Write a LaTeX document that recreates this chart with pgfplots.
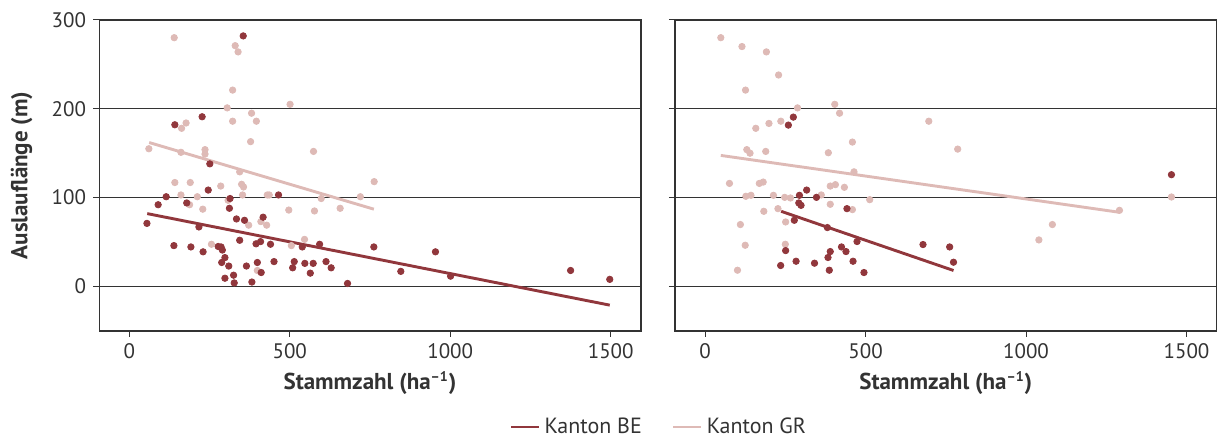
\documentclass[border=0pt]{standalone}
\usepackage{fontspec}
\setmainfont{PT Sans}
\usepackage{pgfplots}
\pgfplotsset{compat=1.18}

\definecolor{be}{HTML}{91373C}
\definecolor{gr}{HTML}{DEBAB6}
\definecolor{frame}{HTML}{333333}

\pgfplotsset{
  panel/.style={
    scale only axis, width=270.9pt, height=155.5pt,
    xmin=-94, xmax=1594, ymin=-50, ymax=300,
    xtick={0,500,1000,1500}, ytick={0,100,200,300},
    tick align=outside, tick pos=left, major tick length=3pt,
    ymajorgrids, grid style={frame, line width=0.5pt},
    axis line style={frame, line width=0.6pt},
    tick style={frame, line width=0.5pt},
    ticklabel style={font=\fontsize{10.5}{12}\selectfont, text=frame},
    /pgf/number format/assume math mode=true,
    /pgf/number format/1000 sep={},
    label style={font=\fontsize{11.5}{13}\selectfont\bfseries, text=frame},
    xlabel={Stammzahl (ha\textsuperscript{\fontsize{7}{7}\selectfont –1})},
    xlabel style={at={(axis description cs:0.5,-0.1675)}, anchor=center},
  },
  dotbe/.style={only marks, mark=*, mark size=1.6pt, color=be, forget plot},
  dotgr/.style={only marks, mark=*, mark size=1.6pt, color=gr, forget plot},
  linebe/.style={be, line width=1.45pt, no marks, forget plot},
  linegr/.style={gr, line width=1.45pt, no marks, forget plot},
}

\begin{document}
\begin{tikzpicture}
\path[use as bounding box] (0,0) rectangle (613pt,220.5pt);

% Kanton BE / GR, left panel
\begin{axis}[panel, at={(49.55pt,55.05pt)}, anchor=south west,
  ylabel={Auslauflänge (m)},
  ylabel style={at={(axis description cs:-0.143,0.5)}, anchor=center},
  legend style={at={(axis description cs:1.035,-0.309)}, anchor=center, draw=none, fill=none,
    legend columns=2, font=\fontsize{11}{13}\selectfont, text=frame,
    /tikz/every even column/.append style={column sep=13pt}},
  legend image code/.code={\draw[#1] (0pt,0pt) -- (14pt,0pt);},
  ]
\addplot[dotgr] coordinates {
(140,280) (330,271) (339,264) (322,221) (305,201) (501,205) (381,195) (396,186)
(322,186) (177,184) (163,178) (378,163) (61,155) (161,151) (236,154) (236,149)
(574,152) (344,129) (142,117) (190,117) (285,113) (350,115) (356,112) (161,103)
(212,101) (353,103) (430,103) (436,103) (308,97) (188,92) (229,87) (497,86)
(577,85) (372,69) (410,73) (428,69) (256,47.5) (546,53) (505,46) (399,18)
(598,99) (657,88) (720,101) (763,118)};
\addplot[dotbe] coordinates {
(355,282) (142,182) (227,191) (251,138) (246,108.5) (115,101) (90,92) (179,94)
(314,99) (312,88) (465,103) (55,71) (217,67) (334,76) (359,74.5) (417,78)
(344,52) (395,48) (409,50.5) (440,47.5) (139,46) (192,44.5) (230,39) (277,45)
(286,44.5) (290,41) (298,32.5) (288,27) (310,23) (365,23) (399,27) (411,15.7)
(451,28) (325,12.7) (298,9.3) (327,4) (382,5) (539,44.5) (514,28) (509,21)
(547,26) (564,15) (573,26) (593,47.5) (613,28) (629,21) (680,3.4) (762,44.5)
(846,17) (954,39) (1001,11.6) (1375,18) (1497,8)};
\addplot[linegr] coordinates {(62,162) (762,87)};
\addplot[linebe] coordinates {(56,82) (1497,-21)};
\addlegendimage{be, line width=1.45pt}
\addlegendentry{Kanton BE}
\addlegendimage{gr, line width=1.45pt}
\addlegendentry{Kanton GR}
\end{axis}

% right panel
\begin{axis}[panel, at={(337.45pt,55.05pt)}, anchor=south west, yticklabels={}]
\addplot[dotgr] coordinates {
(49,280) (115,270) (191,264) (229,238) (126,221) (288,201) (404,205) (419,195)
(236,186) (199,183.5) (158,178) (459,162.5) (130,154) (140,150) (189,152) (384,150.5)
(464,129) (76,116) (169,116) (181,117.5) (390,113) (406,114.6) (434,111.6) (127,101.5)
(143,102.6) (213,102.6) (248,100.3) (266,99.6) (362,103) (513,97.7) (390,92.5) (183,84.6)
(227,87.6) (459,86.5) (251,72.6) (110,69.7) (125,46.4) (250,47.5) (101,18.3) (697,186)
(787,154.6) (1082,69.7) (1040,52.4) (1291,85.7) (1453,100.7)};
\addplot[dotbe] coordinates {
(275,190.6) (259.5,181.6) (316.5,108.5) (294,102.6) (347,100.3) (292,94) (299,91.3)
(442,87.6) (278,74.5) (381,66.3) (473.5,50.6) (251,40.4) (390,39.3) (425,44.5)
(439,39.3) (383,32.6) (461,28.4) (283.5,28.4) (235.5,23.6) (341,26.2) (387,18.3)
(495,15.7) (679,47.2) (762,44.5) (774,27.3) (1453,125.8)};
\addplot[linegr] coordinates {(49,147.5) (1291,83.5)};
\addplot[linebe] coordinates {(237,84.6) (774,18)};
\end{axis}
\end{tikzpicture}
\end{document}
